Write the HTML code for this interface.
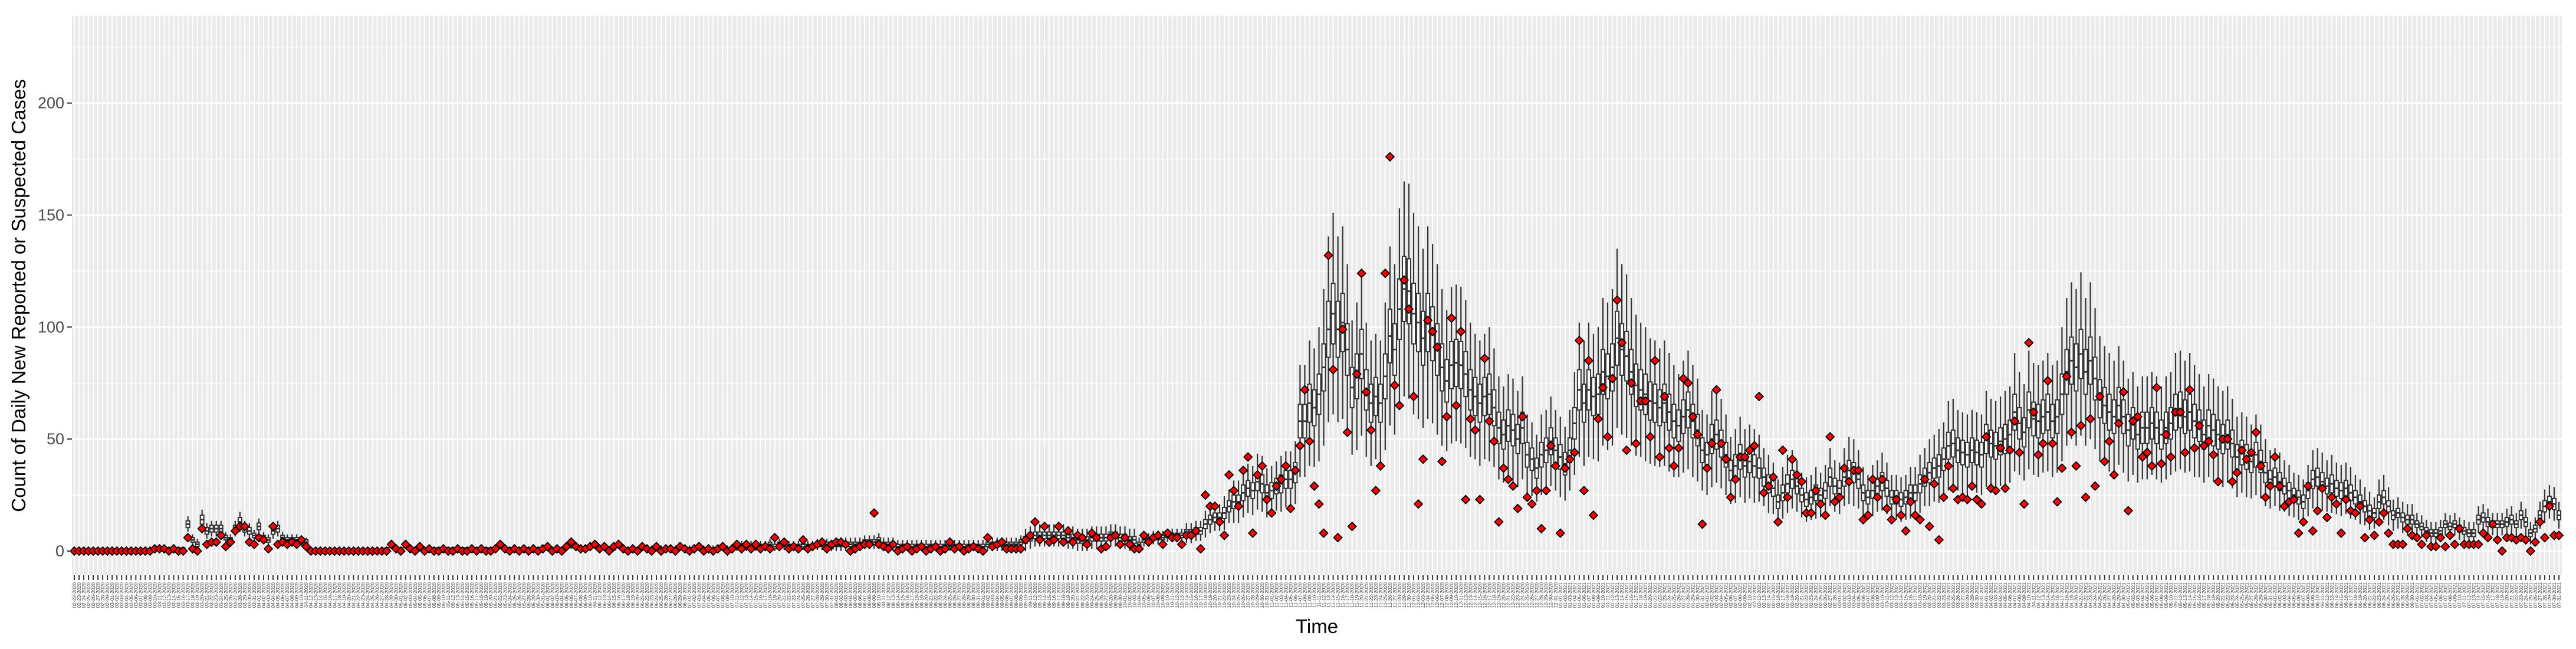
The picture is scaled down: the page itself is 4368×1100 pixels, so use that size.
<!DOCTYPE html>
<html><head><meta charset="utf-8">
<style>
html,body{margin:0;padding:0;background:#fff;}
svg{display:block;font-family:"Liberation Sans",sans-serif;}
</style></head>
<body>
<svg id="chart" width="4368" height="1100" viewBox="0 0 4368 1100" xmlns="http://www.w3.org/2000/svg">
<rect x="0" y="0" width="4368" height="1100" fill="#ffffff"/>
<rect x="122" y="27" width="4222" height="948" fill="#EBEBEB"/>
<g id="grid"></g>
<g id="marks"></g>
<g id="axes"></g>
<text x="2233" y="1073" font-size="33" text-anchor="middle" fill="#000">Time</text>
<text transform="translate(43,501) rotate(-90)" font-size="33" text-anchor="middle" fill="#000">Count of Daily New Reported or Suspected Cases</text>
</svg>
<script>
const startDate = [2020, 1, 22];
const yTicks = [0, 50, 100, 150, 200];
const yMinorTicks = [25, 75, 125, 175, 225];
const obs = [
0,0,0,0,0,0,0,0,0,0,0,0,0,0,0,0,0,
1,1,1,0,1,0,0,
6,1,0,10,3,4,4,7,2,4,9,11,11,4,3,6,5,1,11,3,4,3,4,3,5,2,
0,0,0,0,0,0,0,0,0,0,0,0,0,0,0,0,
0,3,1,0,3,1,0,2,0,1,0,0,1,0,0,1,0,0,1,0,1,0,0,1,3,1,0,1,0,1,0,1,0,1,2,0,1,0,2,4,2,1,1,2,3,1,2,0,2,3,1,0,1,0,2,
1,0,2,0,1,1,0,2,1,0,1,2,0,1,0,1,2,0,1,
3,1,3,1,3,1,2,1,6,2,4,1,2,1,5,1,2,3,4,1,3,4,4,3,0,1,2,3,3,17,3,2,1,3,0,1,2,0,1,2,0,1,2,0,1,4,1,2,0,1,2,1,0,6,2,3,4,1,1,1,1,5,7,13,5,11,4,5,11,4,9,4,7,6,3,8,6,1,2,6,7,3,6,3,1,
1,7,4,6,7,3,8,6,6,3,7,7,9,1,25,20,20,13,7,34,27,20,36,42,8,34,38,23,17,29,32,38,19,36,47,72,49,29,21,8,132,81,6,99,53,11,79,124,71,54,27,38,124,176,74,65,121,108,69,21,41,103,98,91,40,60,104,65,98,23,59,54,23,86,58,49,13,37,32,29,19,60,24,21,27,10,27,47,38,8,37,41,44,94,27,85,16,59,
73,51,77,112,93,45,75,48,67,67,51,85,42,69,46,38,46,77,75,60,52,12,37,48,72,48,41,24,32,42,42,45,47,69,26,29,33,13,45,24,41,34,31,17,17,27,21,16,51,22,24,37,31,36,36,14,16,32,24,32,19,14,23,16,9,22,16,14,32,11,30,5,24,38,28,23,24,23,29,23,21,51,28,27,46,28,45,58,44,21,93,62,43,48,76,48,22,37,78,53,38,56,24,59,29,
69,40,49,34,57,71,18,58,60,42,44,38,73,39,52,42,62,62,44,72,46,56,47,49,43,31,50,50,31,35,45,41,44,53,38,24,29,42,29,20,22,23,8,13,29,9,18,28,15,24,21,8,23,18,17,20,6,14,7,13,17,8,3,3,3,10,7,6,3,7,2,2,6,2,7,3,10,3,3,3,3,8,6,12,5,0,6,6,5,6,5,0,4,13,6,20,7,7
];
const med = [
0,0,0,0,0,0,0,0,0,0,0,0,0,0,0,0,0,
1,1,1,1,1,1,1,
12,5,3,14,9,10,10,10,6,5,10,13,10,9,7,11,6,5,9,10,6,5,5,5,4,4,
0,0,0,0,0,0,0,0,0,0,0,0,0,0,0,0,
1,2,1,1,2,1,1,1,1,1,1,1,1,1,1,1,1,1,1,1,1,1,1,1,2,1,1,1,1,1,1,1,1,1,2,1,1,1,2,2,2,1,1,2,2,1,2,1,1,2,1,1,1,1,1,
1,1,1,1,1,1,1,1,1,1,1,1,1,1,1,1,1,1,1,2,2,2,2,2,2,2,3,2,3,3,2,2,2,3,2,2,3,3,3,2,
3,3,3,3,3,3,4,4,4,5,3,3,3,2,2,2,2,2,2,2,2,2,2,2,3,2,2,2,2,2,
2,2,3,3,3,3,3,3,3,4,5,6,7,7,7,7,7,7,7,6,6,5,5,5,6,6,6,6,7,7,6,6,5,5,
3,5,5,6,6,6,7,7,7,7,8,8,9,9,12,14,15,15,17,20,22,22,26,28,27,31,30,26,27,29,30,32,32,35,
58,58,66,64,70,82,99,106,99,102,90,73,78,88,72,66,69,66,78,96,90,108,117,116,106,102,95,102,97,90,82,76,83,84,83,79,72,69,66,69,70,64,55,52,56,54,50,55,43,41,37,43,45,49,45,42,39,45,57,72,66,72,69,70,
80,78,82,95,90,87,80,74,72,70,67,66,64,66,62,58,56,60,63,58,54,45,43,50,52,48,43,36,38,42,38,40,38,37,33,30,28,22,26,30,32,29,25,23,24,26,25,27,33,29,28,33,36,35,32,26,24,27,29,31,28,24,24,23,24,26,26,30,33,35,37,38,41,47,48,45,44,43,45,44,43,50,48,47,49,50,52,62,57,53,63,59,58,60,62,58,60,70,80,85,82,88,80,85,77,
68,65,62,60,65,60,54,57,52,55,55,57,55,52,55,57,62,63,60,62,58,56,52,56,54,52,50,52,48,42,44,42,40,43,40,35,32,33,31,29,27,25,24,22,27,32,33,31,29,30,28,27,28,26,24,22,20,18,17,22,24,20,16,17,15,14,14,12,11,9,8,8,9,12,11,12,10,9,8,8,14,15,13,12,12,12,13,14,12,16,13,8,10,16,20,22,21,16
];
const iqr = [
0,0,0,0,0,0,0,0,0,0,0,0,0,0,0,0,0,
1,1,1,1,1,1,1,
3,2,2,4,3,3,3,3,2,2,3,4,3,3,2,3,2,2,3,3,2,2,2,2,2,2,
0,0,0,0,0,0,0,0,0,0,0,0,0,0,0,0,
1,1,1,1,1,1,1,1,1,1,1,1,1,1,1,1,1,1,1,1,1,1,1,1,1,1,1,1,1,1,1,1,1,1,1,1,1,1,1,1,1,1,1,1,1,1,1,1,1,1,1,1,1,1,1,
1,1,1,1,1,1,1,1,1,1,1,1,1,1,1,1,1,1,1,2,2,2,2,2,2,2,2,2,2,2,2,2,2,2,2,2,2,2,2,2,
2,2,2,2,2,2,2,2,2,2,2,2,2,2,2,2,2,2,2,2,2,2,2,2,2,2,2,2,2,2,
2,2,2,2,2,2,2,2,2,2,3,3,3,3,3,3,3,3,3,3,3,3,3,3,3,3,3,3,3,3,3,3,3,3,
2,2,2,2,2,2,2,2,2,2,3,3,3,3,4,4,4,4,5,5,6,6,7,7,7,8,8,7,7,7,8,8,8,9,
15,15,17,16,18,21,25,27,25,26,23,18,20,22,18,17,17,17,20,24,23,27,29,29,27,26,24,26,24,23,21,19,21,21,21,20,18,17,17,17,18,16,14,13,14,14,13,14,11,10,9,11,11,12,11,11,10,11,14,18,17,18,17,18,
20,20,21,24,23,22,20,19,18,18,17,17,16,17,16,15,14,15,16,15,14,11,11,13,13,12,11,9,10,11,10,10,10,9,8,8,7,6,7,8,8,7,6,6,6,7,6,7,8,7,7,8,9,9,8,7,6,7,7,8,7,6,6,6,6,7,7,8,8,9,9,10,10,12,12,11,11,11,11,11,11,13,12,12,12,13,13,16,14,13,16,15,15,15,16,15,15,18,20,21,21,22,20,21,19,
17,16,16,15,16,15,14,14,13,14,14,14,14,13,14,14,16,16,15,16,15,14,13,14,14,13,13,13,12,11,11,11,10,11,10,9,8,8,8,7,7,6,6,6,7,8,8,8,7,8,7,7,7,7,6,6,5,5,4,6,6,5,4,4,4,4,4,3,3,3,3,3,3,3,3,3,3,3,3,3,4,4,4,3,3,3,4,4,3,4,4,3,3,4,5,5,5,4
];
const span = [
0,0,0,0,0,0,0,0,0,0,0,0,0,0,0,0,0,
2,2,2,2,2,2,2,
7,5,5,9,7,7,7,7,5,5,7,9,7,7,5,7,5,5,7,7,5,5,5,5,4,4,
0,0,0,0,0,0,0,0,0,0,0,0,0,0,0,0,
2,2,2,2,2,2,2,2,2,2,2,2,2,2,2,2,2,2,2,2,2,2,2,2,2,2,2,2,2,2,2,2,2,2,2,2,2,2,2,2,2,2,2,2,2,2,2,2,2,2,2,2,2,2,2,
3,3,3,3,3,3,3,3,3,3,3,3,3,3,3,3,3,3,3,5,5,5,5,5,5,5,5,5,5,5,5,5,5,5,5,5,5,5,5,5,
6,6,6,6,6,6,6,6,6,6,6,6,6,6,6,6,6,6,6,6,6,6,6,6,6,6,6,6,6,6,
6,6,6,6,6,6,6,6,6,6,10,10,10,10,10,10,10,10,10,10,10,10,10,10,10,10,10,10,10,10,10,10,10,10,
6,6,6,6,6,6,6,6,6,6,9,9,9,9,12,12,12,12,15,15,19,19,22,22,22,25,25,22,22,22,25,25,25,28,
50,50,56,53,60,70,83,90,83,86,76,60,66,73,60,56,56,56,66,80,76,90,96,96,90,86,80,86,80,76,70,63,70,70,70,66,60,56,56,56,60,53,46,43,46,46,43,46,36,33,30,36,36,40,36,36,33,36,46,60,56,60,56,60,
66,66,70,80,76,73,66,63,60,60,56,56,53,56,53,50,46,50,53,50,46,36,36,43,43,40,36,30,33,36,33,33,33,30,26,26,23,20,23,26,26,23,20,20,20,23,20,23,26,23,23,26,30,30,26,23,20,23,23,26,23,20,20,20,20,23,23,26,26,30,30,33,33,40,40,36,36,36,36,36,36,43,40,40,40,43,43,53,46,43,53,50,50,50,53,50,50,60,66,70,70,73,66,70,63,
56,53,53,50,53,50,46,46,43,46,46,46,46,43,46,46,53,53,50,53,50,46,43,46,46,43,43,43,40,36,36,36,33,36,33,30,26,26,26,23,23,20,20,20,23,26,26,26,23,26,23,23,23,23,20,20,17,17,14,20,20,17,14,14,14,14,14,10,10,10,10,10,10,10,10,10,10,10,10,10,12,12,12,10,10,10,12,12,10,12,12,10,10,12,15,15,15,12
];

const NS = "http://www.w3.org/2000/svg";
const nDays = obs.length;
const PL = 122, PR = 4344, PT = 27, PB = 975;
const X0 = 126, X1 = 4339;
const Y_MIN = -10.8, Y_MAX = 238.9;
function xScale(i){ return X0 + (X1 - X0) * i / (nDays - 1); }
function yScale(v){ return PB - (v - Y_MIN) / (Y_MAX - Y_MIN) * (PB - PT); }
function mk(tag, attrs, parent){
  const el = document.createElementNS(NS, tag);
  for (const k in attrs) el.setAttribute(k, attrs[k]);
  parent.appendChild(el);
  return el;
}
const grid = document.getElementById('grid');
const marks = document.getElementById('marks');
const axes = document.getElementById('axes');

yMinorTicks.forEach(v => {
  const l = mk('line', {x1:PL, x2:PR, y1:yScale(v), y2:yScale(v), stroke:'#fff', 'stroke-width':1.3}, grid);
  
  
});
yTicks.forEach(v => {
  const l = mk('line', {x1:PL, x2:PR, y1:yScale(v), y2:yScale(v), stroke:'#fff', 'stroke-width':2.6}, grid);
  
  
});
for (let i = 0; i < nDays; i++) {
  const l = mk('line', {x1:xScale(i), x2:xScale(i), y1:PT, y2:PB, stroke:'#fff', 'stroke-width':1.8}, grid);
  
  
}

const BW = 6;
for (let i = 0; i < nDays; i++) {
  const m = med[i] || 0, q = (iqr[i] || 0) / 2, s = (span[i] || 0) / 2;
  const x = xScale(i);
  const hi = m + s, lo = Math.max(0, m - s);
  const q1 = Math.max(0, m - q), q3 = m + q;
  const g = mk('g', {}, marks);
  
  
  mk('line', {x1:x, x2:x, y1:yScale(hi), y2:yScale(lo), stroke:'#333', 'stroke-width':2.2}, g);
  mk('rect', {x:x-BW/2, y:yScale(q3), width:BW, height:Math.max(0.5, yScale(q1)-yScale(q3)), fill:'#fff', stroke:'#333', 'stroke-width':2}, g);
  mk('line', {x1:x-BW/2, x2:x+BW/2, y1:yScale(m), y2:yScale(m), stroke:'#333', 'stroke-width':2.8}, g);
}
for (let i = 0; i < nDays; i++) {
  const x = xScale(i), y = yScale(obs[i]);
  const r = 7;
  const d = mk('polygon', {points:`${x},${y-r} ${x+r},${y} ${x},${y+r} ${x-r},${y}`, fill:'#FF0000', stroke:'#000', 'stroke-width':1.8}, marks);
  
  
}

yTicks.forEach(v => {
  const t = mk('line', {x1:PL-8, x2:PL, y1:yScale(v), y2:yScale(v), stroke:'#333', 'stroke-width':2}, axes);
  
  
  const lb = mk('text', {x:PL-13, y:yScale(v)+9, 'font-size':27, 'text-anchor':'end', fill:'#4D4D4D'}, axes);
  lb.textContent = String(v);
  
  
});
function pad(n){ return (n < 10 ? '0' : '') + n; }
for (let i = 0; i < nDays; i++) {
  const x = xScale(i);
  const t = mk('line', {x1:x, x2:x, y1:PB, y2:PB+8, stroke:'#333', 'stroke-width':2}, axes);
  
  
  const dt = new Date(Date.UTC(startDate[0], startDate[1], startDate[2] + i));
  const label = pad(dt.getUTCMonth()+1) + '-' + pad(dt.getUTCDate()) + '-' + dt.getUTCFullYear();
  const lb = mk('text', {transform:`translate(${x+3},${PB+12}) rotate(-90)`, 'font-size':8.5, 'text-anchor':'end', fill:'#4D4D4D'}, axes);
  lb.textContent = label;
  
  
}
</script>
</body></html>
